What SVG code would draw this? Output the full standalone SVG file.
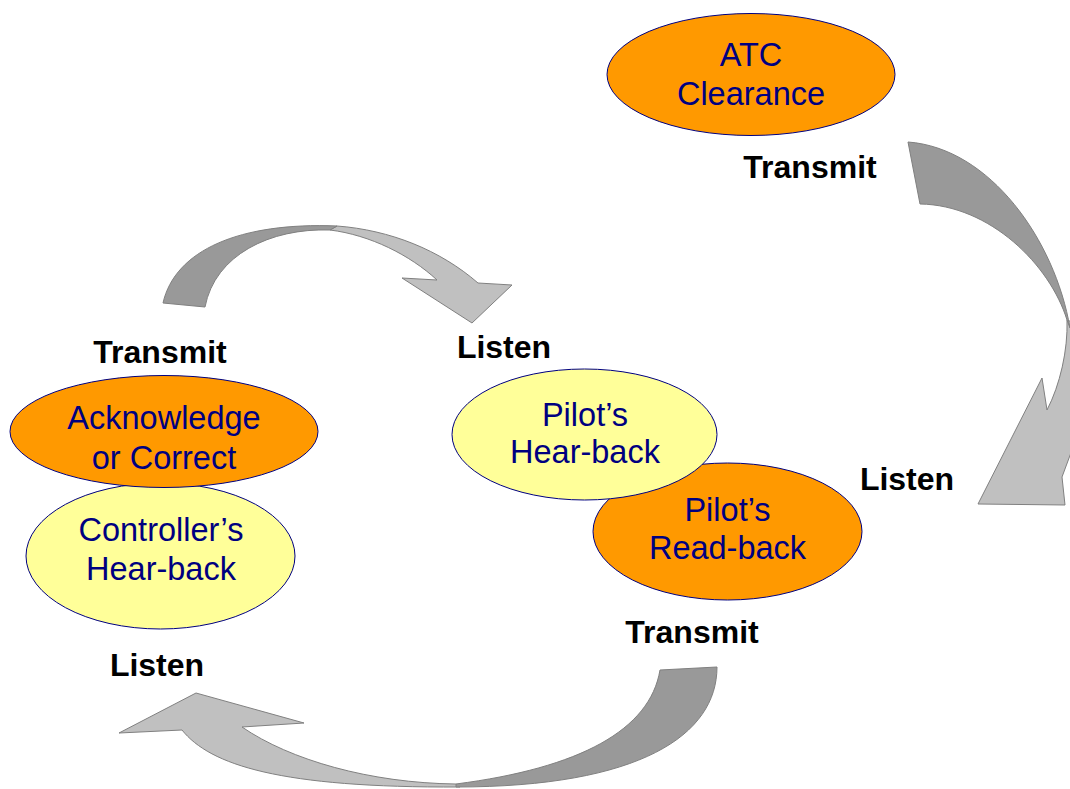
<svg xmlns="http://www.w3.org/2000/svg" width="1070" height="789" viewBox="0 0 1070 789">
<style>
.dark{fill:#999999;stroke:#808080;stroke-width:1}
.light{fill:#C0C0C0;stroke:#808080;stroke-width:1}
.orange{fill:#FF9900;stroke:#000080;stroke-width:1}
.yellow{fill:#FFFF99;stroke:#000080;stroke-width:1}
.nt{font-family:"Liberation Sans",Arial,sans-serif;font-size:32.5px;fill:#000080;text-anchor:middle}
.lbl{font-family:"Liberation Sans",Arial,sans-serif;font-size:32px;font-weight:bold;fill:#000000;text-anchor:middle}
</style>
<rect width="1070" height="789" fill="#ffffff"/>
<g id="connectors">
  <g id="arrow-right">
    <path class="light" d="M1067,320 C1068,350 1060,385 1047,410 L1042,378 L978,504 L1065,505 L1062,477 L1072,450 L1072,322 Z"/>
    <path class="dark" d="M908,142 C990,148 1055,240 1070,328 L1067,320 C1050,265 990,205 920,204 Z"/>
  </g>
  <g id="arrow-top">
    <path class="light" d="M337,226 C390,230 440,250 478,283 L512,285 L472,323 L402,278 L437,280 C410,255 370,235 330,230 Z"/>
    <path class="dark" d="M163,303 C175,250 240,222 337,226 L330,230 C270,228 215,255 205,307 Z"/>
  </g>
  <g id="arrow-bottom">
    <path class="light" d="M182,730 C210,765 280,788 460,787 L456,784 C370,783 290,760 242,727 L304,723 L196,693 L119,733 Z"/>
    <path class="dark" d="M717,667 C717,735 640,787 456,787 L456,784 C580,768 650,730 660,670 Z"/>
  </g>
</g>
<g id="node-atc">
  <ellipse class="orange" cx="751" cy="74.5" rx="144" ry="61"/>
  <text class="nt" x="751" y="66">ATC</text>
  <text class="nt" x="751" y="105">Clearance</text>
</g>
<g id="node-controller-hearback">
  <ellipse class="yellow" cx="160.5" cy="556" rx="134.5" ry="73"/>
  <text class="nt" x="161" y="541">Controller’s</text>
  <text class="nt" x="161" y="580">Hear-back</text>
</g>
<g id="node-acknowledge">
  <ellipse class="orange" cx="164" cy="431.5" rx="154" ry="56"/>
  <text class="nt" x="164" y="429">Acknowledge</text>
  <text class="nt" x="164" y="469">or Correct</text>
</g>
<g id="node-pilot-readback">
  <ellipse class="orange" cx="727.5" cy="531.5" rx="134.5" ry="68.5"/>
  <text class="nt" x="727.5" y="521">Pilot’s</text>
  <text class="nt" x="727.5" y="559">Read-back</text>
</g>
<g id="node-pilot-hearback">
  <ellipse class="yellow" cx="584.5" cy="434.5" rx="132.5" ry="65.5"/>
  <text class="nt" x="585" y="426">Pilot’s</text>
  <text class="nt" x="585" y="463">Hear-back</text>
</g>
<g id="labels">
  <text class="lbl" x="810" y="178">Transmit</text>
  <text class="lbl" x="160" y="363">Transmit</text>
  <text class="lbl" x="504" y="358">Listen</text>
  <text class="lbl" x="907" y="490">Listen</text>
  <text class="lbl" x="692" y="643">Transmit</text>
  <text class="lbl" x="157" y="676">Listen</text>
</g>
</svg>
